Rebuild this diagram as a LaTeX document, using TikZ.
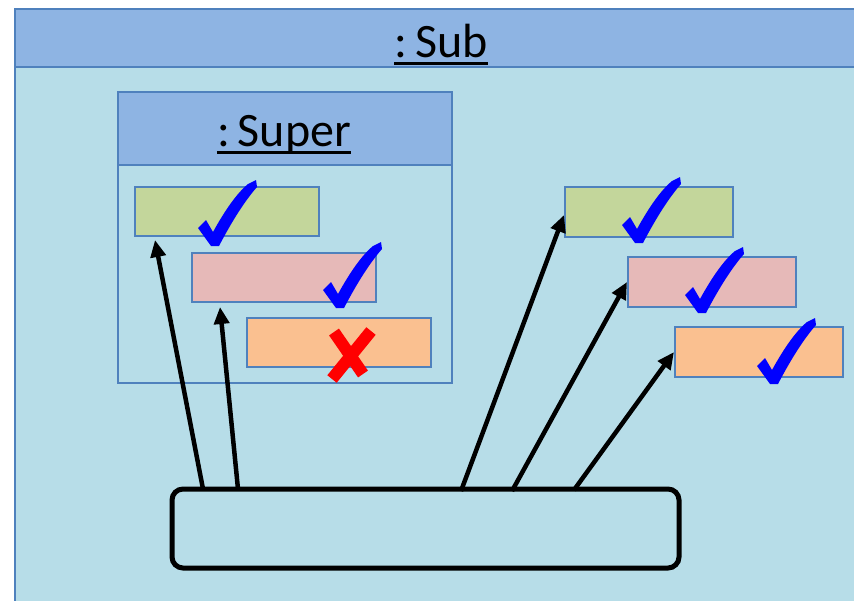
\documentclass[tikz,border=0pt]{standalone}
\usepackage{fontspec}
\setmainfont{Carlito}
\usetikzlibrary{arrows.meta,calc}
\definecolor{hdr}{HTML}{8EB4E3}
\definecolor{bodyc}{HTML}{B7DDE8}
\definecolor{edgec}{HTML}{4F81BD}
\definecolor{fgreen}{HTML}{C3D69B}
\definecolor{fpink}{HTML}{E6B9B8}
\definecolor{forange}{HTML}{FAC090}
\tikzset{
  member/.style={draw=edgec, line width=1.2pt, inner sep=0pt, outer sep=0pt, anchor=north west},
  leftmem/.style={member, minimum width=184pt, minimum height=49pt},
  rightmem/.style={member, minimum width=168pt, minimum height=50pt},
  title/.style={font=\fontsize{48}{50}\selectfont, inner sep=0pt, anchor=base},
  uline/.style={line width=3pt},
  arr/.style={line width=4.5pt, -{Triangle[length=17pt,width=15pt]}},
  tick/.pic={\fill[blue] (-2,1) -- (-15,-17) -- (-7,-25) -- (0,-13)
      .. controls (11,-33) and (23,-51) .. (35,-61) -- (43,-65) -- (44,-58)
      .. controls (30,-42) and (17,-20) .. (6,1) -- cycle;},
  cross/.pic={\draw[red, line width=12pt] (-11,-20) -- (18,22);
      \draw[red, line width=12pt] (26,-21) -- (-13,27);}
}
\begin{document}
\begin{tikzpicture}[x=1pt,y=-1pt]
\useasboundingbox (0,0) rectangle (854,600);
\clip (0,0) rectangle (854,600);
\fill[white] (0,0) rectangle (854,600);
% outer object
\node[draw=edgec, line width=1.5pt, fill=bodyc, anchor=north west, minimum width=860pt, minimum height=620pt, inner sep=0pt] (sub) at (14,8) {};
\node[draw=edgec, line width=1.5pt, fill=hdr, anchor=north west, minimum width=860pt, minimum height=58pt, inner sep=0pt] (subhdr) at (14,8) {};
\node[title] (subtxt) at (441,57) {:\,Sub};
\draw[uline] ([yshift=-6pt]subtxt.base west) -- ([yshift=-6pt]subtxt.base east);
% super object
\node[draw=edgec, line width=1.5pt, fill=bodyc, anchor=north west, minimum width=334pt, minimum height=291pt, inner sep=0pt] (super) at (117,91) {};
\node[draw=edgec, line width=1.5pt, fill=hdr, anchor=north west, minimum width=334pt, minimum height=73pt, inner sep=0pt] (superhdr) at (117,91) {};
\node[title] (supertxt) at (284,146) {:\,Super};
\draw[uline] ([yshift=-6pt]supertxt.base west) -- ([yshift=-6pt]supertxt.base east);
% members
\node[leftmem, fill=fgreen] (g1) at (135,187) {};
\node[leftmem, fill=fpink] (p1) at (192,253) {};
\node[leftmem, fill=forange] (o1) at (247,318) {};
\node[rightmem, fill=fgreen] (g2) at (565,187) {};
\node[rightmem, fill=fpink] (p2) at (628,257) {};
\node[rightmem, fill=forange] (o2) at (675,327) {};
% marks
\pic at (213,245) {tick};
\pic at (338,307) {tick};
\pic at (345,352) {cross};
\pic at (637,242) {tick};
\pic at (700,312) {tick};
\pic at (772,383) {tick};
% client
\node[draw=black, line width=5pt, rounded corners=11pt, minimum width=507pt, minimum height=79pt, inner sep=0pt, outer sep=0pt, anchor=north west] (bot) at (172,489) {};
\draw[arr] ($(bot.north west)+(31,0)$) -- ($(g1.south west)+(20,4)$);
\draw[arr] ($(bot.north west)+(66,0)$) -- ($(p1.south west)+(28,5)$);
\draw[arr] ($(bot.north west)+(289,2)$) -- ($(g2.north west)+(-1,28)$);
\draw[arr] ($(bot.north west)+(340,2)$) -- ($(p2.north west)+(-1,25)$);
\draw[arr] ($(bot.north west)+(402,1)$) -- ($(o2.north west)+(-1,25)$);
\end{tikzpicture}
\end{document}
